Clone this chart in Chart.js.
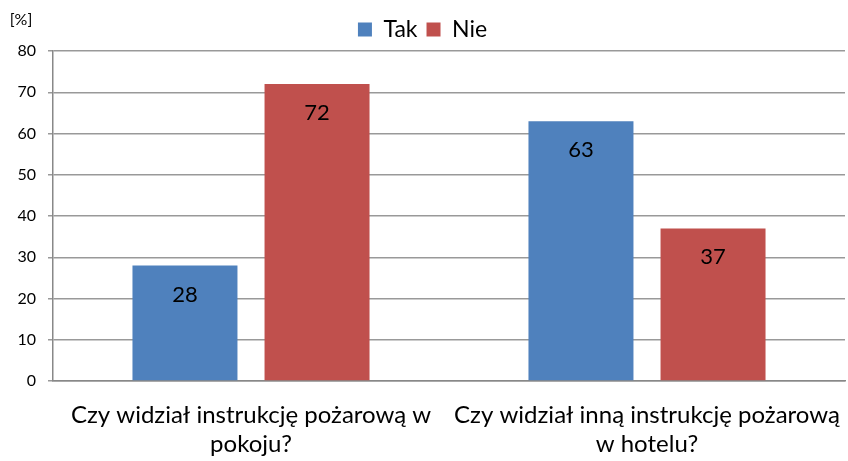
<!DOCTYPE html>
<html lang="pl">
  <head>
    <title>Instrukcja pożarowa</title>
    <meta charset="UTF-8" />
    <script src="https://cdn.jsdelivr.net/npm/chart.js@4.4.1/dist/chart.umd.min.js"></script>
    <style>
      html, body { margin: 0; padding: 0; background: #fff; }
      #box { width: 848px; height: 461px; }
    </style>
  </head>
  <body>
    <div id="box"><canvas id="wykres"></canvas></div>
    <script>
      // dane
      var kategorie = [
        ['Czy widział instrukcję pożarową w', 'pokoju?'],
        ['Czy widział inną instrukcję pożarową', 'w hotelu?'],
      ];
      var tak = [28, 63];
      var nie = [72, 37];
      var jednostka = '[%]';

      var czcionka = 'Lato, "Open Sans", sans-serif';

      // etykiety wartosci w slupkach + [%] nad osia
      var etykiety = {
        id: 'etykiety',
        afterDatasetsDraw: function (chart) {
          var ctx = chart.ctx;
          ctx.save();
          ctx.fillStyle = '#000';
          ctx.font = '22px ' + czcionka;
          ctx.textAlign = 'center';
          ctx.textBaseline = 'middle';
          chart.data.datasets.forEach(function (ds, i) {
            chart.getDatasetMeta(i).data.forEach(function (bar, j) {
              ctx.fillText(ds.data[j], bar.x, bar.y + 29);
            });
          });
          ctx.font = '16px ' + czcionka;
          ctx.fillText(jednostka, 21, 20);
          ctx.restore();
        },
      };

      new Chart(document.getElementById('wykres'), {
        type: 'bar',
        data: {
          labels: kategorie,
          datasets: [
            { label: 'Tak', data: tak, backgroundColor: '#4F81BD' },
            { label: 'Nie', data: nie, backgroundColor: '#C0504D' },
          ],
        },
        options: {
          responsive: true,
          maintainAspectRatio: false,
          animation: false,
          categoryPercentage: 0.667,
          barPercentage: 0.795,
          layout: { padding: { top: 9, right: 3, left: 0, bottom: 0 } },
          plugins: {
            legend: {
              position: 'top',
              labels: {
                boxWidth: 14,
                boxHeight: 14,
                padding: 9,
                color: '#000',
                font: { family: czcionka, size: 23 },
              },
            },
            tooltip: { enabled: false },
          },
          scales: {
            x: {
              grid: { display: false },
              border: { color: '#888', width: 1.5 },
              ticks: {
                color: '#000',
                padding: 12,
                maxRotation: 0,
                autoSkip: false,
                font: { family: czcionka, size: 24, lineHeight: 1.2 },
              },
              afterFit: function (s) {
                s.height = 80;
                s.paddingLeft = 0;
                s.paddingRight = 0;
              },
            },
            y: {
              min: 0,
              max: 80,
              ticks: {
                stepSize: 10,
                color: '#000',
                padding: 12,
                font: { family: czcionka, size: 16 },
              },
              grid: { color: '#999', lineWidth: 1.5, tickLength: 5 },
              border: { color: '#888', width: 1.5 },
              afterFit: function (s) { s.width = 53; },
            },
          },
        },
        plugins: [etykiety],
      });
    </script>
  </body>
</html>
